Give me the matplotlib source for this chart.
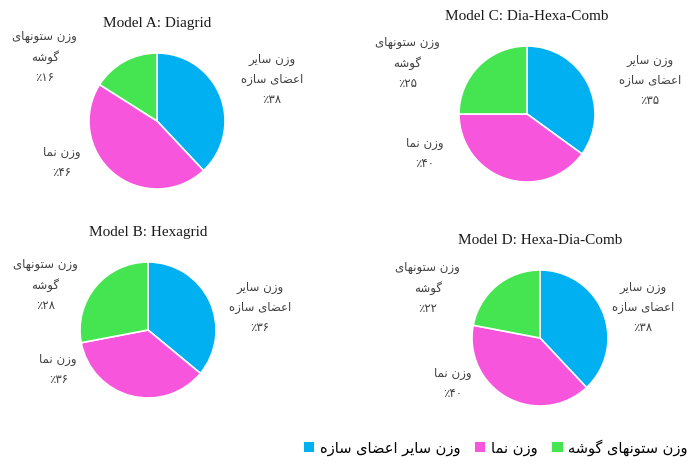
import numpy as np
import matplotlib
matplotlib.use("Agg")
import matplotlib.pyplot as plt
from matplotlib.patches import Patch

# data (percent shares per model)
models = ["Model A: Diagrid", "Model B: Hexagrid",
          "Model C: Dia-Hexa-Comb", "Model D: Hexa-Dia-Comb"]
other_members = [38, 36, 35, 38]
facade = [46, 36, 40, 40]
corner_columns = [16, 28, 25, 22]

categories = ["وزن سایر اعضای سازه", "وزن نما", "وزن ستونهای گوشه"]
pie_labels = ["وزن سایر\nاعضای سازه", "وزن نما", "وزن ستونهای\nگوشه"]
colors = ["#00B0F0", "#F655DC", "#45E552"]

# presentation forms: isolated, final, initial, medial
FORMS = {
    "ا": ("\uFE8D", "\uFE8E"),
    "ر": ("\uFEAD", "\uFEAE"),
    "ز": ("\uFEAF", "\uFEB0"),
    "و": ("\uFEED", "\uFEEE"),
    "ن": ("\uFEE5", "\uFEE6", "\uFEE7", "\uFEE8"),
    "س": ("\uFEB1", "\uFEB2", "\uFEB3", "\uFEB4"),
    "ش": ("\uFEB5", "\uFEB6", "\uFEB7", "\uFEB8"),
    "ض": ("\uFEBD", "\uFEBE", "\uFEBF", "\uFEC0"),
    "ع": ("\uFEC9", "\uFECA", "\uFECB", "\uFECC"),
    "ت": ("\uFE95", "\uFE96", "\uFE97", "\uFE98"),
    "م": ("\uFEE1", "\uFEE2", "\uFEE3", "\uFEE4"),
    "ه": ("\uFEE9", "\uFEEA", "\uFEEB", "\uFEEC"),
    "ی": ("\uFBFC", "\uFBFD", "\uFBFE", "\uFBFF"),
    "گ": ("\uFB92", "\uFB93", "\uFB94", "\uFB95"),
}


def shape_line(line):
    out = []
    for i, ch in enumerate(line):
        if ch not in FORMS:
            out.append(ch)
            continue
        prev = line[i - 1] if i > 0 else " "
        nxt = line[i + 1] if i + 1 < len(line) else " "
        jp = prev in FORMS and len(FORMS[prev]) == 4
        jn = len(FORMS[ch]) == 4 and nxt in FORMS
        f = FORMS[ch]
        if jp and jn:
            out.append(f[3])
        elif jp:
            out.append(f[1])
        elif jn:
            out.append(f[2])
        else:
            out.append(f[0])
    return "".join(out)[::-1]


def fa(text):
    return "\n".join(shape_line(l) for l in text.split("\n"))


FA_DIGITS = str.maketrans("0123456789", "۰۱۲۳۴۵۶۷۸۹")


def pct(v):
    return "٪" + str(v).translate(FA_DIGITS)


W, H = 693, 464
R = 68
# pie centres in pixels: A, B, C, D
centers = [(157, 122), (148, 331), (527, 115), (540, 339)]
label_offsets = [
    [(1.69, 0.62), (-1.40, -0.60), (-1.65, 0.96)],
    [(1.65, 0.34), (-1.32, -0.57), (-1.51, 0.68)],
    [(1.81, 0.51), (-1.51, -0.57), (-1.76, 0.76)],
    [(1.51, 0.46), (-1.28, -0.65), (-1.65, 0.75)],
]

fig = plt.figure(figsize=(W / 100, H / 100), dpi=100)

for k, name in enumerate(models):
    cx, cy = centers[k]
    ax = fig.add_axes([(cx - R) / W, 1 - (cy + R) / H, 2 * R / W, 2 * R / H])
    vals = [other_members[k], facade[k], corner_columns[k]]
    ax.pie(vals, colors=colors, startangle=90, counterclock=False,
           wedgeprops=dict(edgecolor="white", linewidth=1.2))
    ax.set_xlim(-1, 1)
    ax.set_ylim(-1, 1)
    ax.set_aspect("equal")
    ax.axis("off")
    ax.text(0, 1.45, name, ha="center", va="center", fontsize=11,
            family="Liberation Serif", color="#1a1a1a", clip_on=False)
    for j in range(3):
        dx, dy = label_offsets[k][j]
        txt = fa(pie_labels[j]) + "\n" + pct(vals[j])
        ax.text(dx, dy, txt, ha="center", va="center", fontsize=8.5,
                family="DejaVu Sans", color="#404040", linespacing=1.7,
                clip_on=False)

handles = [Patch(facecolor=c, edgecolor="none") for c in colors]
fig.legend(handles, [fa(c) for c in categories], loc="center",
           bbox_to_anchor=(496 / W, 1 - 448 / H), ncol=3, frameon=False,
           handlelength=0.7, handleheight=0.7,
           handletextpad=0.4, columnspacing=1.0,
           prop={"family": "DejaVu Sans", "size": 10.5})

fig.savefig("out.png", dpi=100)
